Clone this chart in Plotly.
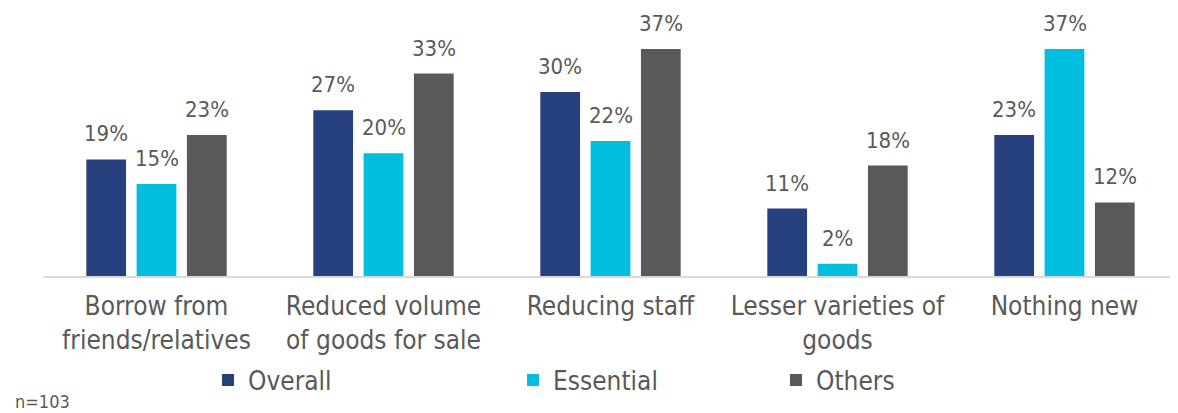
import plotly.graph_objects as go

categories = [
    "Borrow from<br>friends/relatives",
    "Reduced volume<br>of goods for sale",
    "Reducing staff",
    "Lesser varieties of<br>goods",
    "Nothing new",
]
series_names = ["Overall", "Essential", "Others"]
overall = [19, 27, 30, 11, 23]
essential = [15, 20, 22, 2, 37]
others = [23, 33, 37, 18, 12]

colors = ["#26417E", "#00BFDE", "#595959"]
FONT = "DejaVu Sans Condensed"
TEXT_COLOR = "#595959"

# the page body has an 8px margin, so the figure is a bit smaller than the window
W, H = 1170, 405
ML, MR, MT, MB = 35, 0, 0, 137
BARGAP = 0.335
BARGROUPGAP = 0.21

# each series gets its own legend box so the spacing can follow the original
legend_ids = ["legend", "legend2", "legend3"]
legend_x = [200, 505, 768]

fig = go.Figure()
for name, vals, col, lid in zip(series_names, [overall, essential, others], colors, legend_ids):
    fig.add_trace(go.Bar(
        x=categories,
        y=vals,
        name=name,
        legend=lid,
        marker=dict(color=col, line=dict(width=0)),
    ))

# value labels sit a bit higher above the bars than plotly's "outside" text
cat_px = (W - ML - MR) / len(categories)
pitch = cat_px * (1 - BARGAP) / len(series_names)
for i, vals in enumerate([overall, essential, others]):
    for cat, v in zip(categories, vals):
        fig.add_annotation(
            x=cat, y=v, text=f"{v}%", showarrow=False,
            xshift=(i - 1) * pitch, yshift=11, yanchor="bottom",
            font=dict(family=FONT, size=22, color=TEXT_COLOR),
        )

plot_h = H - MB - MT
fig.add_annotation(
    x=-(ML - 5) / (W - ML - MR), y=-(393 - plot_h) / plot_h,
    xref="paper", yref="paper", xanchor="left", yanchor="middle",
    text="n=103", showarrow=False,
    font=dict(family=FONT, size=18, color=TEXT_COLOR),
)

legend_style = dict(
    orientation="h", xref="container", yref="container",
    y=1 - 372 / H, xanchor="left", yanchor="middle",
    bgcolor="rgba(0,0,0,0)",
    font=dict(family=FONT, size=26, color=TEXT_COLOR),
    itemclick=False, itemdoubleclick=False,
)

fig.update_layout(
    width=W, height=H,
    margin=dict(l=ML, r=MR, t=MT, b=MB, autoexpand=False),
    barmode="group", bargap=BARGAP, bargroupgap=BARGROUPGAP,
    plot_bgcolor="white", paper_bgcolor="white",
    font=dict(family=FONT, size=22, color=TEXT_COLOR),
    showlegend=True,
    legend=dict(x=legend_x[0] / W, **legend_style),
    legend2=dict(x=legend_x[1] / W, **legend_style),
    legend3=dict(x=legend_x[2] / W, **legend_style),
    xaxis=dict(
        showline=True, linecolor="#D9D9D9", linewidth=2,
        ticks="", showgrid=False, automargin=False, ticklabelstandoff=6,
        tickfont=dict(family=FONT, size=26, color=TEXT_COLOR),
    ),
    yaxis=dict(range=[0, plot_h / (227 / 37)], visible=False, showgrid=False,
               automargin=False),
)

fig.write_html("out.html")
